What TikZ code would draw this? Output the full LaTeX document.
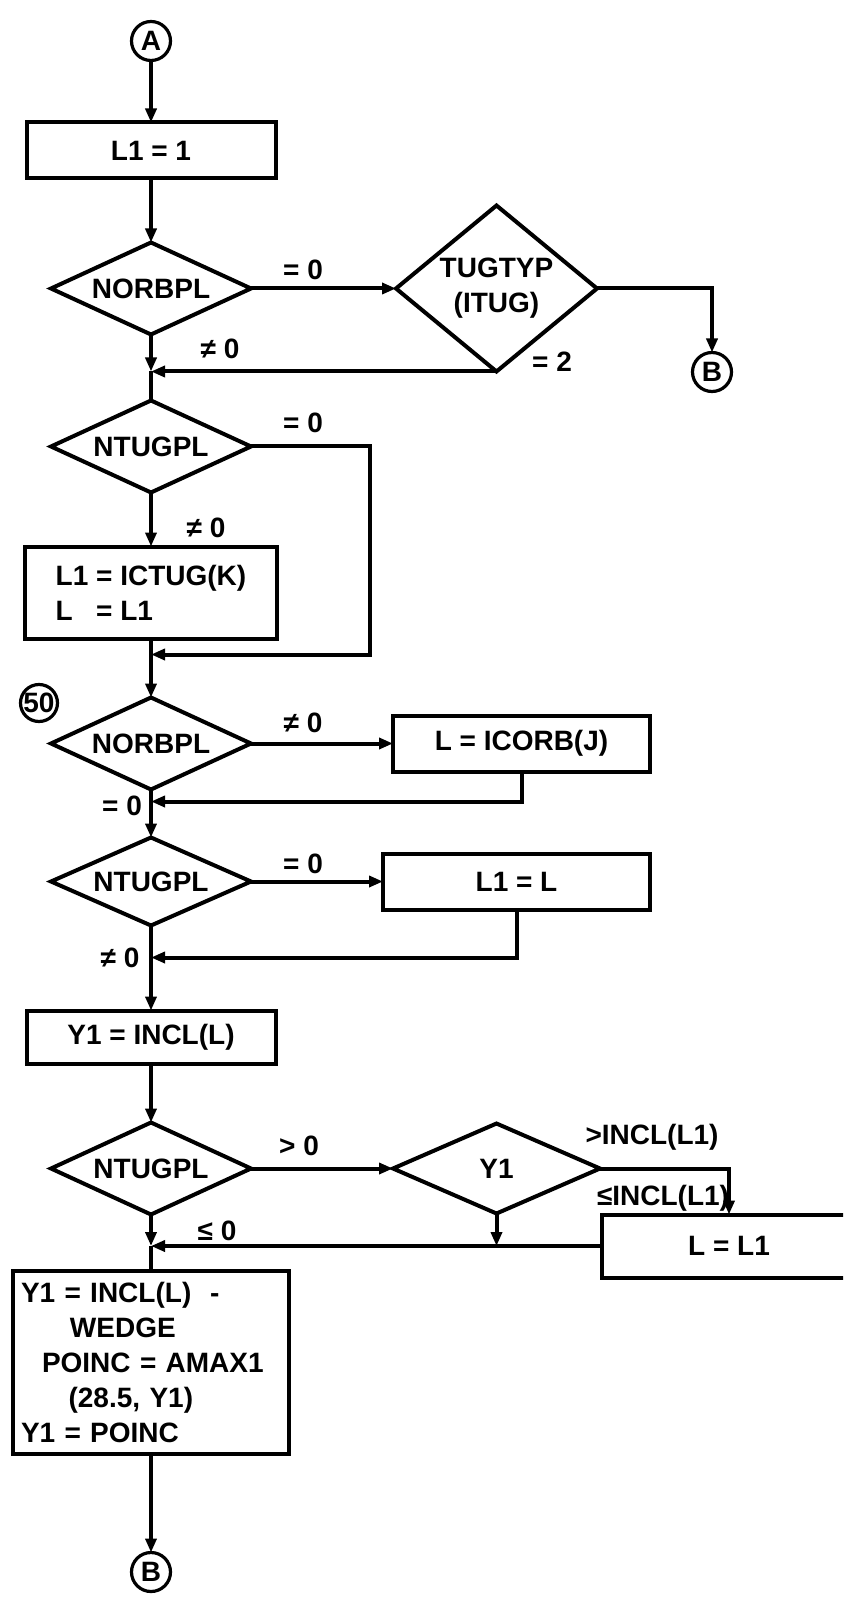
\documentclass[tikz,border=0pt]{standalone}
\usepackage{fontspec}
\setmainfont{Liberation Sans}
\usetikzlibrary{shapes.geometric, arrows.meta, positioning}

\begin{document}
\begin{tikzpicture}[
            x=0.5pt, y=-0.5pt,
            font=\fontsize{14}{17.5}\selectfont\bfseries,
            line width=2pt,
            process/.style={
                    rectangle, draw, line width=2pt, outer sep=0pt,
                    minimum width=124.5pt, minimum height=28pt,
                    align=center, inner sep=2pt
                },
            decision/.style={
                    diamond, draw, line width=2pt, outer sep=0pt, aspect=2.2,
                    minimum width=100pt, minimum height=46pt,
                    align=center, inner sep=0pt
                },
            connector/.style={
                    circle, draw, line width=1.6pt, outer sep=0pt,
                    minimum size=19.5pt, inner sep=0pt
                },
            cond/.style={inner sep=0pt},
            arrow/.style={-{Triangle[length=7pt, width=5.5pt]}, line width=2pt}
        ]
        \useasboundingbox (0,0) rectangle (843,1598);
        \clip (0,0) rectangle (843,1598);

        \node[connector] (A) at (151,41) {A};
        \node[process, below=31pt of A] (init) {L1 = 1};
        \node[decision, below=32pt of init] (orb1) {NORBPL};
        \node[decision, right=72.5pt of orb1, aspect=1.2, minimum width=100.5pt, minimum height=83pt] (typ) {TUGTYP\\(ITUG)};
        \node[connector] (B1) at (712,372) {B};

        \node[decision, below=33pt of orb1] (tug1) {NTUGPL};
        \node[process, below=27pt of tug1, minimum width=126pt, minimum height=46pt, align=left] (ctug) {L1 = ICTUG(K)\\L\phantom{1} = L1};

        \node[decision, below=29.5pt of ctug] (orb2) {NORBPL};
        \node[connector, minimum size=18.5pt] (c50) at (39,703) {50};
        \node[process, right=71pt of orb2, minimum width=128.5pt] (icorb) {L = ICORB(J)};

        \node[decision, below=24pt of orb2, minimum height=44pt] (tug2) {NTUGPL};
        \node[process, right=66pt of tug2, minimum width=133.5pt] (l1l) {L1 = L};

        \node[process, below=42.5pt of tug2, minimum height=26.5pt] (incl) {Y1 = INCL(L)};
        \node[decision, below=29.5pt of incl] (tug3) {NTUGPL};
        \node[decision, right=71pt of tug3, minimum width=103.5pt, minimum height=45pt] (y1) {Y1};
        \node[process, anchor=north west, xshift=1pt, minimum width=127pt, minimum height=31.5pt] (ll1) at (y1.east |- tug3.south) {L = L1};

        \node[process, below=28pt of tug3, text width=130pt, inner sep=4pt, minimum height=91.5pt, align=left] (wedge) {Y1\ = INCL(L)\ \ -\\\hspace*{1.75em}WEDGE\\\hspace*{0.75em}POINC = AMAX1\\\hspace*{1.7em}(28.5, Y1)\\Y1 = POINC};
        \node[connector, below=49.5pt of wedge] (B2) {B};

        % branch labels
        \node[cond] (e0a) at (303,270) {= 0};
        \node[cond] (e2) at (552,362) {= 2};
        \node[cond] (n0a) at (220,349) {≠ 0};
        \node[cond] (e0b) at (303,423) {= 0};
        \node[cond] (n0b) at (206,528) {≠ 0};
        \node[cond] (n0c) at (303,723) {≠ 0};
        \node[cond] (e0c) at (122,806) {= 0};
        \node[cond] (e0d) at (303,864) {= 0};
        \node[cond] (n0d) at (120,958) {≠ 0};
        \node[cond] (gt0) at (299,1146) {> 0};
        \node[cond] (gtin) at (652,1137) {>INCL(L1)};
        \node[cond] (lein) at (663,1198) {≤INCL(L1)};
        \node[cond] (le0) at (217,1231) {≤ 0};

        \draw[arrow] (A) -- (init);
        \draw[arrow] (init) -- (orb1);
        \draw[arrow] (orb1) -- (typ);
        \draw[arrow] (typ.east) -| (B1);
        \coordinate (m1) at (orb1.south |- typ.south);
        \draw[arrow] (orb1) -- (m1);
        \draw[arrow] (typ.south) -- (m1);
        \draw (m1) -- (tug1);

        \coordinate[below=8pt of ctug] (m2);
        \draw[arrow] (tug1) -- (ctug);
        \draw[arrow] (tug1.east) -- ++(119,0) |- (m2);
        \draw (ctug) -- (m2);
        \draw[arrow] (m2) -- (orb2);

        \coordinate[below=6pt of orb2] (m3);
        \draw[arrow] (orb2) -- (icorb);
        \draw[arrow] (icorb.south) |- (m3);
        \draw[arrow] (orb2) -- (tug2);

        \coordinate[below=16pt of tug2] (m4);
        \draw[arrow] (tug2) -- (l1l);
        \draw[arrow] (l1l.south) |- (m4);
        \draw[arrow] (tug2) -- (incl);
        \draw[arrow] (incl) -- (tug3);

        \coordinate (m5) at (tug3.south |- ll1.west);
        \coordinate (m6) at (y1.south |- ll1.west);
        \draw[arrow] (tug3) -- (y1);
        \draw[arrow] (y1.east) -| (ll1.north);
        \draw[arrow] (y1.south) -- (m6);
        \draw[arrow] (ll1.west) -- (m5);
        \draw[arrow] (tug3) -- (m5);
        \draw (m5) -- (wedge);
        \draw[arrow] (wedge) -- (B2);
    \end{tikzpicture}
\end{document}
